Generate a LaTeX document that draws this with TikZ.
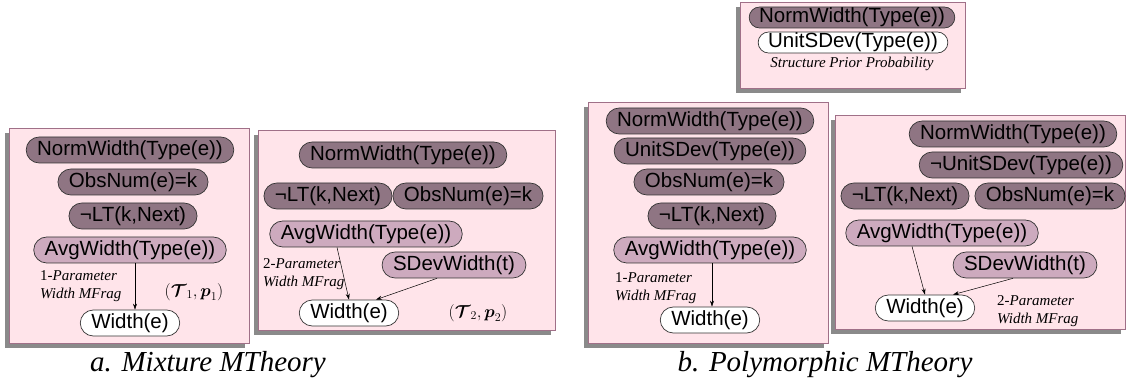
\documentclass[tikz,border=0pt]{standalone}
\usepackage{amsmath}
\usepackage{fontspec}
\setmainfont{Liberation Serif}
\setsansfont{Liberation Sans}
\usetikzlibrary{arrows.meta,shadows}

\definecolor{fragpink}{RGB}{255,228,234}
\definecolor{fragline}{RGB}{160,112,136}
\definecolor{fragshade}{RGB}{138,138,138}
\definecolor{ctxmauve}{RGB}{143,117,131}
\definecolor{inpmauve}{RGB}{205,170,190}

\tikzset{
  frag/.style={draw=fragline,fill=fragpink,line width=0.8pt,
    drop shadow={shadow xshift=-4pt,shadow yshift=-5pt,fill=fragshade,opacity=1}},
  rv/.style={draw=black!80,line width=0.7pt,rounded corners=13pt,
    minimum height=26pt,inner xsep=11pt,inner ysep=2pt,
    font=\sffamily\fontsize{20.5}{22}\selectfont},
  ctx/.style={rv,fill=ctxmauve},
  inp/.style={rv,fill=inpmauve},
  res/.style={rv,fill=white},
  slim/.style={minimum height=21pt,inner ysep=0.5pt,rounded corners=10.5pt,inner xsep=10pt},
  note/.style={font=\fontsize{15}{18}\selectfont,align=left,inner sep=0pt},
  pair/.style={font=\fontsize{17.5}{19}\selectfont,inner sep=0pt},
  theory/.style={font=\itshape\fontsize{29}{32}\selectfont,inner sep=0pt,anchor=base},
}

\begin{document}
\begin{tikzpicture}[x=1pt,y=-1pt]
  \useasboundingbox (0,0) rectangle (1127,387);

  % the MFrag boxes
  \draw[frag] (9,128) rectangle (249,343);
  \draw[frag] (258,130) rectangle (555,330);
  \draw[frag] (740,2) rectangle (965,88);
  \draw[frag] (588,102) rectangle (828,343);
  \draw[frag] (835,115) rectangle (1125,329);

  % a. mixture, first frag
  \begin{scope}
    \node[ctx] (a1) at (130,150) {NormWidth(Type(e))};
    \node[ctx] (a2) at (133,182) {ObsNum(e)=k};
    \node[ctx] (a3) at (133,216) {¬LT(k,Next)};
    \node[inp] (a4) at (130,250) {AvgWidth(Type(e))};
    \node[res] (a5) at (130,323) {Width(e)};
    \node[note,anchor=north west] (a6) at (40,270) {1-\textit{Parameter}\\\textit{Width MFrag}};
    \node[pair] (a7) at (194,292) {$(\boldsymbol{\mathcal{T}}_1,\boldsymbol{p}_1)$};
  \end{scope}

  % a. mixture, second frag
  \begin{scope}
    \node[ctx] (c1) at (403,155) {NormWidth(Type(e))};
    \node[ctx] (c2) at (328,196) {¬LT(k,Next)};
    \node[ctx] (c3) at (468,196) {ObsNum(e)=k};
    \node[inp] (c4) at (366,234) {AvgWidth(Type(e))};
    \node[inp] (c5) at (454,265) {SDevWidth(t)};
    \node[res] (c6) at (349,313) {Width(e)};
    \node[note,anchor=north west] (c7) at (263,258) {2-\textit{Parameter}\\\textit{Width MFrag}};
    \node[pair] (c8) at (478,313) {$(\boldsymbol{\mathcal{T}}_2,\boldsymbol{p}_2)$};
  \end{scope}

  % b. polymorphic, prior frag
  \begin{scope}
    \node[ctx,slim] (d1) at (852,17.5) {NormWidth(Type(e))};
    \node[res,slim] (d2) at (853,42.5) {UnitSDev(Type(e))};
    \node[note,font=\fontsize{15}{18}\selectfont\itshape] (d3) at (852,64) {Structure Prior Probability};
  \end{scope}

  % b. polymorphic, first frag
  \begin{scope}
    \node[ctx] (e1) at (710,121) {NormWidth(Type(e))};
    \node[ctx] (e2) at (710,151) {UnitSDev(Type(e))};
    \node[ctx] (e3) at (709,182) {ObsNum(e)=k};
    \node[ctx] (e4) at (712,216) {¬LT(k,Next)};
    \node[inp] (e5) at (710,250) {AvgWidth(Type(e))};
    \node[res] (e6) at (710,320) {Width(e)};
    \node[note,anchor=north west] (e7) at (615,272) {1-\textit{Parameter}\\\textit{Width MFrag}};
  \end{scope}

  % b. polymorphic, second frag
  \begin{scope}
    \node[ctx] (f1) at (1013,134) {NormWidth(Type(e))};
    \node[ctx] (f2) at (1021,165) {¬UnitSDev(Type(e))};
    \node[ctx] (f3) at (905,196) {¬LT(k,Next)};
    \node[ctx] (f4) at (1050,196) {ObsNum(e)=k};
    \node[inp] (f5) at (942,233) {AvgWidth(Type(e))};
    \node[inp] (f6) at (1025,265) {SDevWidth(t)};
    \node[res] (f7) at (925,308) {Width(e)};
    \node[note,anchor=north west] (f8) at (997,295) {2-\textit{Parameter}\\\textit{Width MFrag}};
  \end{scope}

  \begin{scope}[every edge/.style={draw,line width=0.5pt,-{Stealth[length=6pt,width=4pt]}}]
    \path ([xshift=5pt]a4.south) edge ([xshift=5pt]a5.north);
    \path ([xshift=-29pt]c4.south) edge (c6.north);
    \path ([xshift=-17pt]c5.south) edge ([xshift=27pt]c6.north);
    \path ([xshift=2pt]e5.south) edge ([xshift=2pt]e6.north);
    \path ([xshift=-30pt]f5.south) edge (f7.north);
    \path ([xshift=-12pt]f6.south) edge ([xshift=28pt]f7.north);
  \end{scope}

  \node[theory] (capa) at (208,371) {a. Mixture MTheory};
  \node[theory] (capb) at (825,371) {b. Polymorphic MTheory};

\end{tikzpicture}
\end{document}
